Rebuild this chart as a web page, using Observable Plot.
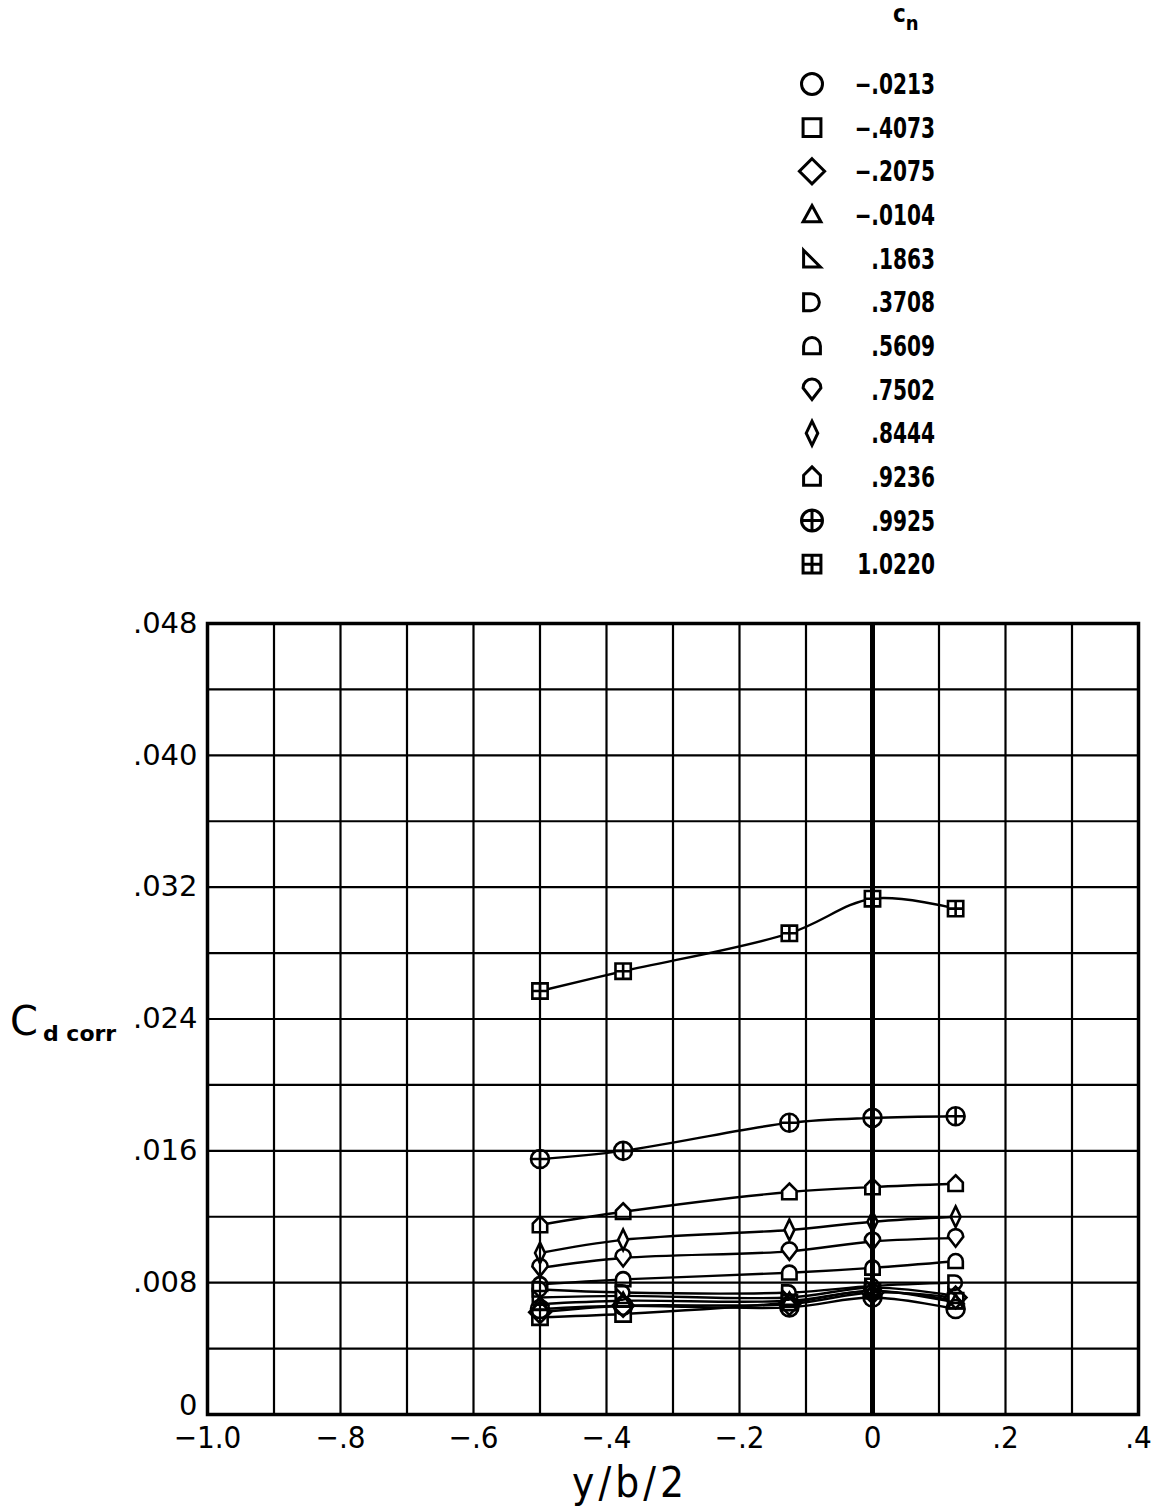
<!DOCTYPE html>
<html><head><meta charset="utf-8">
<script src="https://cdn.jsdelivr.net/npm/d3@7"></script>
<script src="https://cdn.jsdelivr.net/npm/@observablehq/plot@0.6"></script>
<style>
body{margin:0;background:#fff}
#wrap{position:relative;width:1156px;height:1506px;overflow:hidden}
#legend{position:absolute;left:0;top:0}
#chart{position:absolute;left:0;top:590px}
</style>
</head><body><div id="wrap"><svg id="legend" width="1156" height="590"></svg><div id="chart"></div></div>
<script>
// ---- data ----
const xStations = [-0.5, -0.375, -0.125, 0, 0.125];
const cnLabels = ["−.0213","−.4073","−.2075","−.0104",".1863",".3708",".5609",".7502",".8444",".9236",".9925","1.0220"];
const symbolKeys = ["circle","square","diamond","triangle","rtri","dshape","dome","kite","thindiamond","house","circleplus","squareplus"];
const cd_m0213 = [0.0064, 0.0066, 0.0065, 0.0071, 0.0064];
const cd_m4073 = [0.0059, 0.0061, 0.0068, 0.0075, 0.0069];
const cd_m2075 = [0.0062, 0.0066, 0.0067, 0.0074, 0.0071];
const cd_m0104 = [0.0067, 0.0069, 0.0069, 0.0075, 0.0068];
const cd_1863  = [0.0071, 0.0072, 0.0071, 0.0077, 0.0072];
const cd_3708  = [0.0076, 0.0074, 0.0074, 0.0078, 0.0080];
const cd_5609  = [0.0079, 0.0082, 0.0086, 0.0089, 0.0093];
const cd_7502  = [0.0089, 0.0095, 0.0099, 0.0105, 0.0107];
const cd_8444  = [0.0098, 0.0106, 0.0112, 0.0117, 0.0120];
const cd_9236  = [0.0115, 0.0123, 0.0135, 0.0138, 0.0140];
const cd_9925  = [0.0155, 0.0160, 0.0177, 0.0180, 0.0181];
const cd_10220 = [0.0257, 0.0269, 0.0292, 0.0313, 0.0307];
const seriesValues = [cd_m0213, cd_m4073, cd_m2075, cd_m0104, cd_1863, cd_3708, cd_5609, cd_7502, cd_8444, cd_9236, cd_9925, cd_10220];

const xGrid = [-1.0,-0.9,-0.8,-0.7,-0.6,-0.5,-0.4,-0.3,-0.2,-0.1,0,0.1,0.2,0.3,0.4];
const yGrid = [0,0.004,0.008,0.012,0.016,0.020,0.024,0.028,0.032,0.036,0.040,0.044,0.048];
const xTicks = [-1.0,-0.8,-0.6,-0.4,-0.2,0,0.2,0.4];
const xTickLabels = ["−1.0","−.8","−.6","−.4","−.2","0",".2",".4"];
const yTicks = [0.008,0.016,0.024,0.032,0.040,0.048];
const yTickLabels = [".008",".016",".024",".032",".040",".048"];
const yZeroTick = [0];

// ---- symbols ----
function sym(fn){ return {draw(c, size){ fn(c, Math.sqrt(size/Math.PI)); }}; }
const PI = Math.PI;
const SYM = {
  circle: sym((c,s)=>{c.moveTo(s,0); c.arc(0,0,s,0,2*PI);}),
  square: sym((c,s)=>{const h=0.85*s; c.moveTo(-h,-h); c.lineTo(h,-h); c.lineTo(h,h); c.lineTo(-h,h); c.closePath();}),
  diamond: sym((c,s)=>{const h=1.2*s; c.moveTo(0,-h); c.lineTo(h,0); c.lineTo(0,h); c.lineTo(-h,0); c.closePath();}),
  triangle: sym((c,s)=>{c.moveTo(0,-0.9*s); c.lineTo(0.85*s,0.65*s); c.lineTo(-0.85*s,0.65*s); c.closePath();}),
  rtri: sym((c,s)=>{const h=0.8*s; c.moveTo(-h,-h); c.lineTo(h,h); c.lineTo(-h,h); c.closePath();}),
  dshape: sym((c,s)=>{const h=0.8*s; c.moveTo(-h,-h); c.lineTo(-0.1*s,-h); c.arc(-0.1*s,0,h,-PI/2,PI/2); c.lineTo(-h,h); c.closePath();}),
  dome: sym((c,s)=>{const h=0.8*s; c.moveTo(-h,0.75*s); c.lineTo(-h,0); c.arc(0,0,h,PI,2*PI); c.lineTo(h,0.75*s); c.closePath();}),
  kite: sym((c,s)=>{const h=0.85*s; c.moveTo(-h,-0.15*s); c.arc(0,-0.15*s,h,PI,2*PI); c.lineTo(0,0.95*s); c.closePath();}),
  thindiamond: sym((c,s)=>{c.moveTo(0,-1.15*s); c.lineTo(0.55*s,0); c.lineTo(0,1.15*s); c.lineTo(-0.55*s,0); c.closePath();}),
  house: sym((c,s)=>{const h=0.8*s; c.moveTo(0,-0.95*s); c.lineTo(h,-0.15*s); c.lineTo(h,h); c.lineTo(-h,h); c.lineTo(-h,-0.15*s); c.closePath();}),
  circleplus: sym((c,s)=>{c.moveTo(s,0); c.arc(0,0,s,0,2*PI); c.moveTo(-s,0); c.lineTo(s,0); c.moveTo(0,-s); c.lineTo(0,s);}),
  squareplus: sym((c,s)=>{const h=0.85*s; c.moveTo(-h,-h); c.lineTo(h,-h); c.lineTo(h,h); c.lineTo(-h,h); c.closePath(); c.moveTo(-h,0); c.lineTo(h,0); c.moveTo(0,-h); c.lineTo(0,h);})
};

// ---- table ----
const rows = [];
seriesValues.forEach((vals, si) => vals.forEach((v, i) => rows.push({series: cnLabels[si], key: symbolKeys[si], x: xStations[i], y: v})));

const R = 9;
const marks = [];
cnLabels.forEach((lab, si) => {
  const d = rows.filter(r => r.series === lab);
  marks.push(Plot.line(d, {x: "x", y: "y", stroke: "black", strokeWidth: 2.4, curve: "catmull-rom"}));
});
cnLabels.forEach((lab, si) => {
  const d = rows.filter(r => r.series === lab);
  marks.push(Plot.dot(d, {x: "x", y: "y", r: R, symbol: SYM[symbolKeys[si]], fill: "white", stroke: "none"}));
});
marks.push(Plot.gridX(xGrid, {stroke: "black", strokeOpacity: 1, strokeWidth: 2.2}));
marks.push(Plot.gridY(yGrid, {stroke: "black", strokeOpacity: 1, strokeWidth: 2.2}));
marks.push(Plot.ruleX([0], {stroke: "black", strokeWidth: 5}));
cnLabels.forEach((lab, si) => {
  const d = rows.filter(r => r.series === lab);
  marks.push(Plot.dot(d, {x: "x", y: "y", r: R, symbol: SYM[symbolKeys[si]], fill: "none", stroke: "black", strokeWidth: 2.6}));
});
marks.push(Plot.frame({stroke: "black", strokeWidth: 3.5}));
const xLab = new Map(xTicks.map((t,i)=>[t, xTickLabels[i]]));
const yLab = new Map(yTicks.map((t,i)=>[t, yTickLabels[i]]));
const narrow = "'Liberation Sans Narrow', 'DejaVu Sans Condensed', sans-serif";
marks.push(Plot.axisX(xTicks, {tickSize: 0, tickPadding: 11, tickFormat: d => xLab.get(d), fontSize: 31, fontFamily: narrow, label: null, fill: "black"}));
marks.push(Plot.axisY(yTicks, {tickSize: 0, tickPadding: 10, tickFormat: d => yLab.get(d), fontSize: 29, fontFamily: "'DejaVu Sans', sans-serif", label: null, fill: "black"}));
marks.push(Plot.axisY(yZeroTick, {tickSize: 0, tickPadding: 10, tickFormat: () => "0", dy: -9, fontSize: 29, fontFamily: "'DejaVu Sans', sans-serif", label: null, fill: "black"}));

const chart = Plot.plot({
  width: 1156, height: 916,
  marginTop: 33, marginBottom: 92, marginLeft: 207, marginRight: 18,
  x: {domain: [-1, 0.4]},
  y: {domain: [0, 0.048]},
  style: {background: "white", color: "black", overflow: "visible"},
  marks
});
document.getElementById("chart").appendChild(chart);

// axis titles
const svg = d3.select(chart);
svg.append("text").attr("x", 630).attr("y", 907).attr("text-anchor", "middle")
  .attr("font-family", narrow).attr("font-size", 42).attr("letter-spacing", 4).text("y/b/2");
const yt = svg.append("text").attr("x", 10).attr("y", 445).attr("text-anchor", "start").attr("font-family", "'DejaVu Sans', sans-serif");
yt.append("tspan").attr("font-size", 40).text("C");
yt.append("tspan").attr("font-size", 22).attr("font-weight", "bold").attr("dx", 5).attr("dy", 6).text("d corr");

// legend
const lg = d3.select("#legend");
const hdr = lg.append("text").attr("x", 893).attr("y", 22).attr("font-family", "'DejaVu Sans Condensed', 'DejaVu Sans', sans-serif").attr("font-weight", "bold");
hdr.append("tspan").attr("font-size", 24).text("c");
hdr.append("tspan").attr("font-size", 20).attr("dy", 8).text("n");
const LR = 10.5;
cnLabels.forEach((lab, i) => {
  const y = 84 + i * 43.65;
  const p = d3.path();
  SYM[symbolKeys[i]].draw(p, LR * LR * PI);
  lg.append("path").attr("d", p.toString()).attr("transform", `translate(812,${y})`)
    .attr("fill", "none").attr("stroke", "black").attr("stroke-width", 3);
  lg.append("text").attr("transform", `translate(935,${y}) scale(0.8,1)`).attr("dy", "0.36em").attr("text-anchor", "end")
    .attr("font-family", narrow).attr("font-weight", "bold")
    .attr("font-size", 28).text(lab);
});
</script></body></html>
